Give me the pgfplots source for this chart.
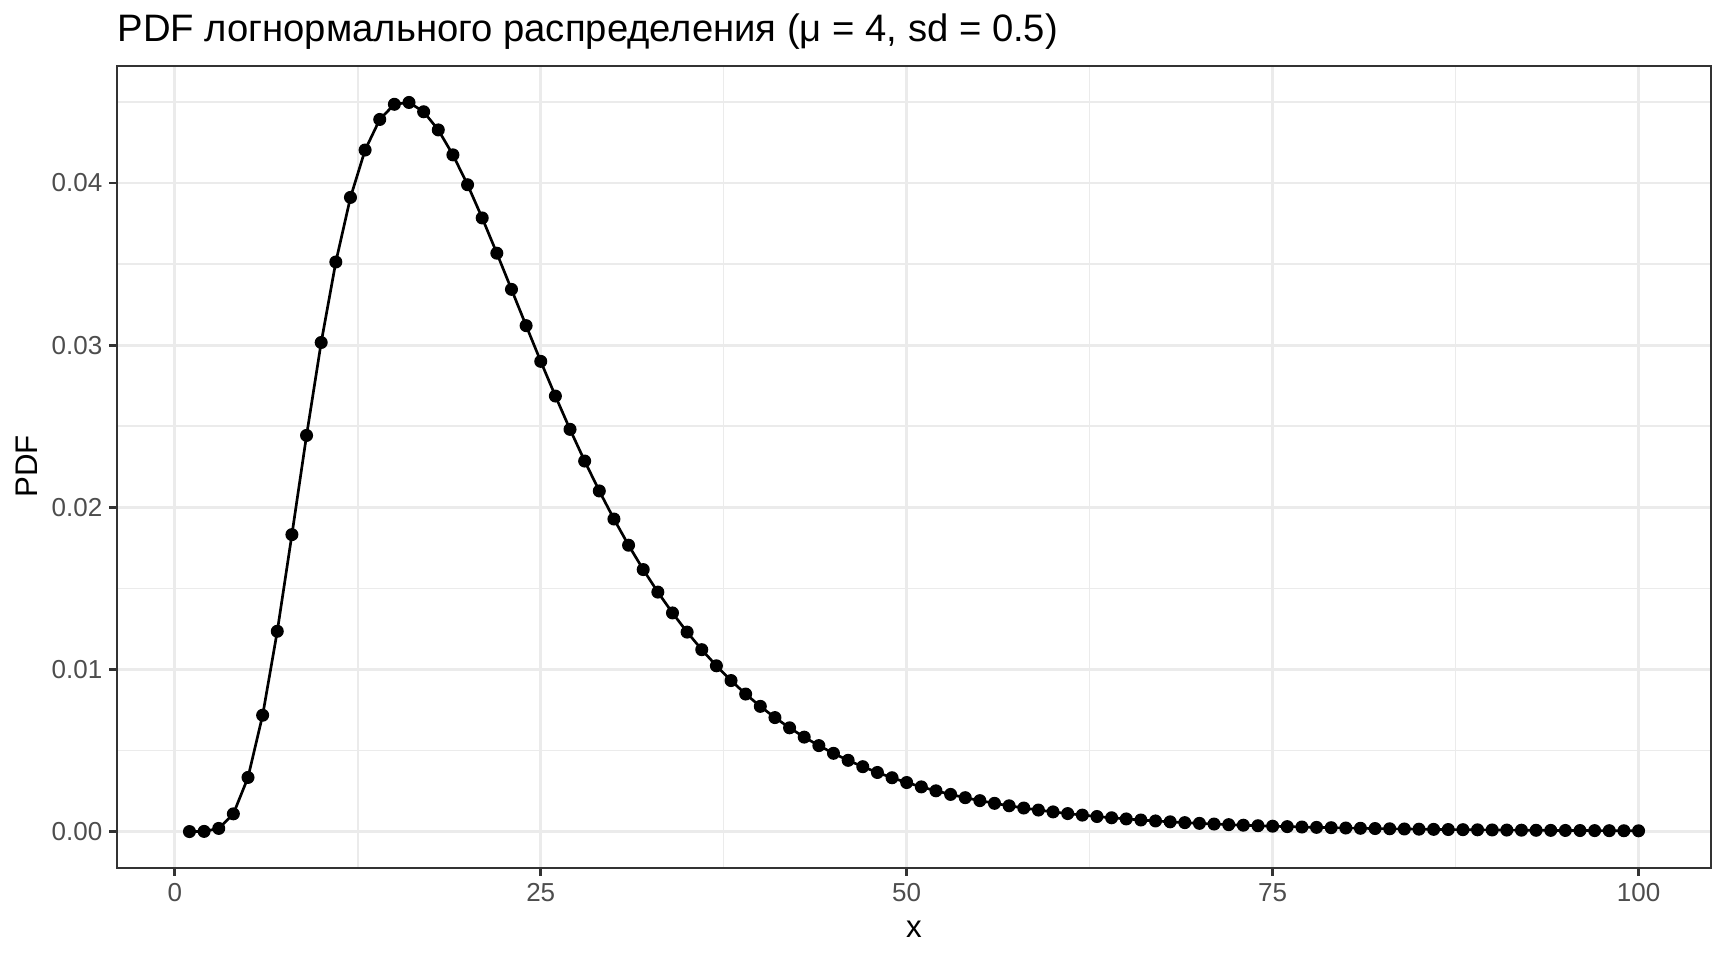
\documentclass[border=0pt]{standalone}
\usepackage{fontspec}
\setmainfont{Liberation Sans}
\usepackage{pgfplots}
\pgfplotsset{compat=1.18}
\definecolor{grey20}{HTML}{333333}
\definecolor{grey30}{HTML}{4D4D4D}
\definecolor{grey92}{HTML}{EBEBEB}
\begin{document}
\begin{tikzpicture}
\path[use as bounding box] (0,0) rectangle (691.2pt,384pt);
\begin{axis}[
    at={(46.8pt,36.8pt)}, anchor=south west,
    scale only axis, width=637.6pt, height=320.8pt,
    xmin=-3.95, xmax=104.95,
    ymin=-0.0022484, ymax=0.0472164,
    xtick={0,25,50,75,100},
    xticklabels={0,25,50,75,100},
    ytick={0,0.01,0.02,0.03,0.04},
    yticklabels={0.00,0.01,0.02,0.03,0.04},
    minor xtick={12.5,37.5,62.5,87.5},
    minor ytick={0.005,0.015,0.025,0.035,0.045},
    scaled y ticks=false,
    grid=both,
    major grid style={grey92, line width=1.15pt},
    minor grid style={grey92, line width=0.58pt},
    axis line style={grey20, line width=1.1pt},
    tick align=outside,
    major tick length=3.1pt,
    minor tick length=0pt,
    major tick style={grey20, line width=1.15pt},
    xtick pos=bottom, ytick pos=left,
    tick label style={font=\fontsize{10.4}{12}\selectfont, text=grey30},
    xticklabel style={inner sep=0pt, yshift=-2.85pt},
    yticklabel style={inner sep=0pt, xshift=-2.6pt},
]
\addplot[black, line width=1.07pt, mark=*, mark size=2.35pt, mark options={line width=0.5pt}] coordinates {
(1,0)(2,0.0000095)(3,0.0001926)(4,0.0010915)(5,0.0033374)(6,0.0071743)(7,0.012352)(8,0.018314)(9,0.024431)(10,0.030163)
(11,0.035128)(12,0.039111)(13,0.042034)(14,0.043919)(15,0.044855)(16,0.044968)(17,0.044394)(18,0.043274)(19,0.041735)(20,0.039893)
(21,0.037844)(22,0.035671)(23,0.033440)(24,0.031203)(25,0.028999)(26,0.026860)(27,0.024806)(28,0.022852)(29,0.021007)(30,0.019276)
(31,0.017660)(32,0.016158)(33,0.014768)(34,0.013484)(35,0.012302)(36,0.011217)(37,0.010223)(38,0.0093125)(39,0.0084806)(40,0.0077213)
(41,0.0070288)(42,0.0063979)(43,0.0058235)(44,0.0053009)(45,0.0048254)(46,0.0043932)(47,0.0040002)(48,0.0036430)(49,0.0033184)(50,0.0030234)
(51,0.0027553)(52,0.0025118)(53,0.0022904)(54,0.0020893)(55,0.0019064)(56,0.0017401)(57,0.0015888)(58,0.0014513)(59,0.0013261)(60,0.0012122)
(61,0.0011085)(62,0.0010141)(63,0.00092803)(64,0.00084964)(65,0.00077819)(66,0.00071302)(67,0.00065357)(68,0.00059933)(69,0.00054981)(70,0.00050458)
(71,0.00046327)(72,0.00042551)(73,0.00039098)(74,0.00035941)(75,0.00033053)(76,0.00030408)(77,0.00027986)(78,0.00025767)(79,0.00023734)(80,0.00021869)
(81,0.00020160)(82,0.00018591)(83,0.00017152)(84,0.00015829)(85,0.00014614)(86,0.00013498)(87,0.00012472)(88,0.00011528)(89,0.00010659)(90,0.0000986)
(91,0.0000912)(92,0.0000845)(93,0.0000782)(94,0.0000725)(95,0.0000671)(96,0.0000622)(97,0.0000577)(98,0.0000535)(99,0.0000497)(100,0.0000461)
};
\end{axis}
\node[anchor=base west, inner sep=0pt, font=\fontsize{15.3}{18}\selectfont] at (46.8pt,367.3pt) {PDF логнормального распределения (μ = 4, sd = 0.5)};
\node[anchor=base, inner sep=0pt, font=\fontsize{12.5}{15}\selectfont] at (365.6pt,9.1pt) {x};
\node[anchor=base, rotate=90, inner sep=0pt, font=\fontsize{12.5}{15}\selectfont] at (15.1pt,197.5pt) {PDF};
\end{tikzpicture}
\end{document}
